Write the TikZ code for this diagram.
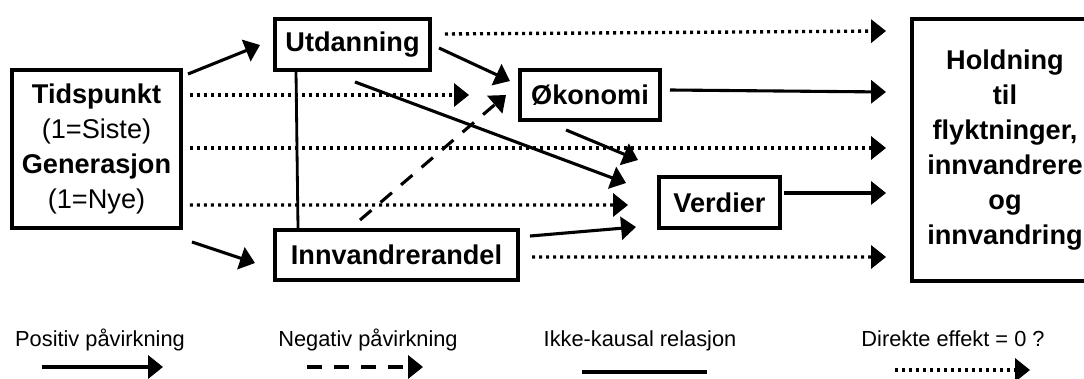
\documentclass[tikz,border=0pt]{standalone}
\usepackage{fontspec}
\setmainfont{Liberation Sans}
\usetikzlibrary{arrows.meta,calc,positioning}

\begin{document}
\begin{tikzpicture}[x=0.025cm, y=-0.025cm,
    box/.style={draw, line width=2.8pt, inner sep=0pt, align=center,
        font=\fontsize{19.3pt}{24.8pt}\selectfont\bfseries},
    posarrow/.style={line width=2.2pt, -{Triangle[length=10.6pt, width=16.3pt]}},
    negarrow/.style={posarrow, dash pattern=on 0.375cm off 0.3cm},
    nocause/.style={line width=2pt},
    zeroarrow/.style={posarrow, line width=2.4pt, dash pattern=on 0.075cm off 0.1cm},
    legtext/.style={anchor=base, font=\fontsize{15.5pt}{18pt}\selectfont}]

    \path[use as bounding box, clip] (0,0) rectangle (1084,379);

    %boxes
    \node[box, minimum width=4.225cm, minimum height=3.95cm] (tid) at (96.5,149)
        {Tidspunkt\\{\mdseries (1=Siste)}\\Generasjon\\{\mdseries (1=Nye)}};
    \node[box, minimum width=3.875cm, minimum height=1.275cm] (utd) at (352.5,44.5) {Utdanning};
    \node[box, minimum width=6.075cm, minimum height=1.25cm] (inn) at (396.5,255) {Innvandrerandel};
    \node[box, minimum width=3.5cm, minimum height=1.25cm] (oko) at (590,95) {Økonomi};
    \node[box, minimum width=3.025cm, minimum height=1.275cm] (ver) at (719.5,202.5) {Verdier};
    \node[box, minimum width=4.65cm, minimum height=6.55cm] (hold) at (1005,150)
        {Holdning\\til\\flyktninger,\\innvandrere\\og\\innvandring};

    %positive effects
    \draw[posarrow] ([shift={(5,6)}]tid.north east) -- ([shift={(-13,0.5)}]utd.west);
    \draw[posarrow] ([shift={(9,12)}]tid.south east) -- ([shift={(-18,8)}]inn.west);
    \draw[posarrow] ([shift={(7,3.5)}]utd.east) -- ([shift={(-8,-14)}]oko.west);
    \draw[posarrow] ([shift={(2.5,10)}]utd.south) -- ([shift={(-31,-19.5)}]ver.west);
    \draw[posarrow] ([shift={(10,8)}]inn.north east) -- ([shift={(-21,24.5)}]ver.west);
    \draw[posarrow] ([shift={(48,8)}]oko.south west) -- ([shift={(-19,-15)}]ver.north west);
    \draw[posarrow] ([shift={(8,-5)}]oko.east) -- ([shift={(-24,-58)}]hold.west);
    \draw[posarrow] ([shift={(2,-9.5)}]ver.east) -- ([shift={(-24,43)}]hold.west);

    %negative effect
    \draw[negarrow] ([shift={(-36.5,-8)}]inn.north) -- ([shift={(-12,0)}]oko.west);

    %non-causal relation
    \draw[nocause] ([shift={(23,0)}]utd.south west) -- ([shift={(25,0)}]inn.north west);

    %direct effect = 0
    \draw[zeroarrow] ([shift={(7,-54)}]tid.east) -- ([shift={(-49,0)}]oko.west);
    \draw[zeroarrow] ([shift={(7,-1)}]tid.east) -- ([shift={(-24,-2)}]hold.west);
    \draw[zeroarrow] ([shift={(7,56)}]tid.east) -- ([shift={(-29,2.5)}]ver.west);
    \draw[zeroarrow] ([shift={(13,-10.5)}]utd.east) -- ([shift={(-24,14)}]hold.north west);
    \draw[zeroarrow] ([shift={(12,2)}]inn.east) -- ([shift={(-24,-26)}]hold.south west);

    %legend
    \node[legtext] (lpos) at (100,347) {Positiv påvirkning};
    \node[legtext] (lneg) at (368,347) {Negativ påvirkning};
    \node[legtext] (lnon) at (640,347) {Ikke-kausal relasjon};
    \node[legtext] (lzero) at (953,347) {Direkte effekt = 0 ?};

    \draw[posarrow, line width=2.5pt] ([shift={(-58,20)}]lpos.base) -- ([shift={(63,20)}]lpos.base);
    \draw[negarrow, line width=2.5pt] ([shift={(-61,20)}]lneg.base) -- ([shift={(55,20)}]lneg.base);
    \draw[nocause, line width=2.6pt] ([shift={(-58,25)}]lnon.base) -- ([shift={(67,25)}]lnon.base);
    \draw[zeroarrow] ([shift={(-58,23)}]lzero.base) -- ([shift={(77,23)}]lzero.base);

\end{tikzpicture}
\end{document}
